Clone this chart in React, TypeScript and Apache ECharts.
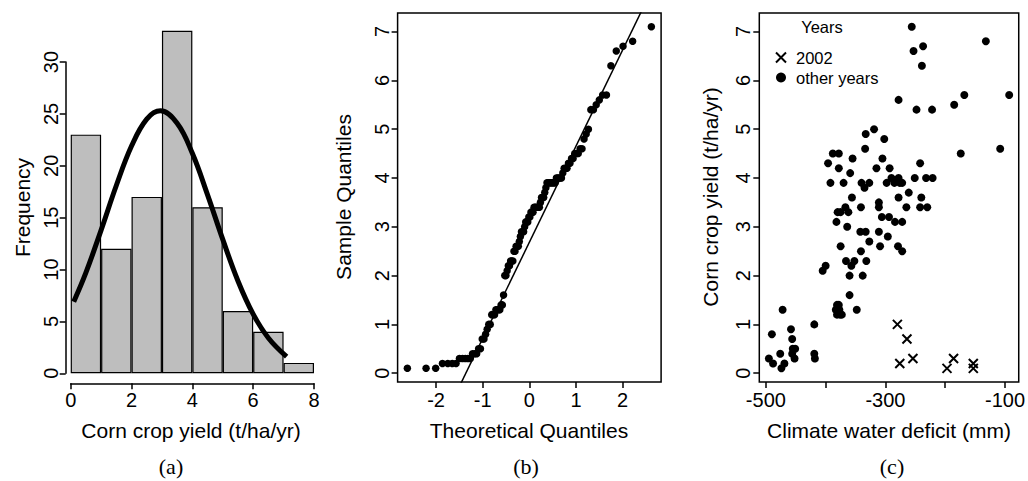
import React, { useEffect, useRef } from 'react';
import * as echarts from 'echarts';

const SANS = '"Liberation Sans", Arial, Helvetica, sans-serif';
const SERIF = '"Liberation Serif", "Times New Roman", serif';

// Panel (a): histogram of corn crop yield
const histBins = ['0-1', '1-2', '2-3', '3-4', '4-5', '5-6', '6-7', '7-8'];
const histCounts = [23, 12, 17, 33, 16, 6, 4, 1];
const curveX = [0.1, 0.5, 1, 1.5, 2, 2.5, 2.95, 3.5, 4, 4.5, 5, 5.5, 6, 6.5, 7.1];
const curveY = [6.9, 9.7, 13.8, 18.1, 21.9, 24.5, 25.3, 24.1, 21.2, 17.2, 12.9, 8.9, 5.7, 3.4, 1.6];
const histTicksX = [0, 2, 4, 6, 8];

// Panel (b): normal Q-Q plot
const qqTheoretical = [
  -2.615, -2.214, -2.008, -1.863, -1.748, -1.653, -1.571, -1.499, -1.433, -1.373, -1.318, -1.266, -1.218, -1.172,
  -1.129, -1.088, -1.048, -1.01, -0.973, -0.938, -0.904, -0.871, -0.838, -0.807, -0.776, -0.746, -0.717, -0.688,
  -0.66, -0.633, -0.606, -0.579, -0.553, -0.527, -0.501, -0.476, -0.451, -0.426, -0.402, -0.378, -0.354, -0.33,
  -0.307, -0.284, -0.261, -0.237, -0.215, -0.192, -0.169, -0.146, -0.123, -0.101, -0.078, -0.056, -0.034, -0.011,
  0.011, 0.034, 0.056, 0.078, 0.101, 0.123, 0.146, 0.169, 0.192, 0.215, 0.237, 0.261, 0.284, 0.307,
  0.33, 0.354, 0.378, 0.402, 0.426, 0.451, 0.476, 0.501, 0.527, 0.553, 0.579, 0.606, 0.633, 0.66,
  0.688, 0.717, 0.746, 0.776, 0.807, 0.838, 0.871, 0.904, 0.938, 0.973, 1.01, 1.048, 1.088, 1.129,
  1.172, 1.218, 1.266, 1.318, 1.373, 1.433, 1.499, 1.571, 1.653, 1.748, 1.863, 2.008, 2.214, 2.615,
];
const qqSample = [
  0.1, 0.1, 0.1, 0.2, 0.2, 0.2, 0.2, 0.3, 0.3, 0.3, 0.3, 0.3, 0.4, 0.4, 0.4, 0.5, 0.5, 0.7, 0.7, 0.8, 0.9, 1.0, 1.0,
  1.2, 1.2, 1.2, 1.3, 1.3, 1.3, 1.3, 1.4, 1.4, 1.6, 2.0, 2.0,
  2.1, 2.2, 2.2, 2.3, 2.3, 2.3, 2.5, 2.5, 2.6, 2.6, 2.6, 2.7, 2.8, 2.9, 2.9, 2.9, 3.0,
  3.1, 3.1, 3.1, 3.2, 3.2, 3.3, 3.3, 3.3, 3.4, 3.4, 3.4, 3.4, 3.4, 3.4, 3.5, 3.6, 3.6, 3.6, 3.7, 3.8,
  3.9, 3.9, 3.9, 3.9, 3.9, 3.9, 3.9, 3.9, 4.0, 4.0, 4.0, 4.0, 4.0,
  4.1, 4.2, 4.2, 4.2, 4.3, 4.3, 4.4, 4.4, 4.5, 4.5, 4.5, 4.6, 4.6, 4.8, 4.9, 5.0,
  5.4, 5.4, 5.5, 5.6, 5.7, 5.7, 6.3, 6.6, 6.7, 6.8, 7.1,
];
const qqLineX = [-1.55, 2.45];
const qqLineY = [-0.371, 7.51];
const quantTicksX = [-2, -1, 0, 1, 2];
const yieldTicks = [0, 1, 2, 3, 4, 5, 6, 7];

// Panel (c): yield vs climate water deficit
const deficit2002 = [-280, -264, -276, -254, -197, -186, -153, -153];
const yield2002 = [1.0, 0.7, 0.2, 0.3, 0.1, 0.3, 0.2, 0.1];
const deficitOther = [
  -256, -253, -237, -239, -278, -248, -222, -132, -168, -93, -185, -174, -108,
  -319, -333, -302, -334, -388, -378, -355, -305, -242, -396, -378, -315, -293, -359,
  -392, -370, -340, -335, -327, -298, -290, -278, -276, -251, -232, -221, -272, -285,
  -261, -356, -278, -240, -311, -311, -367, -362, -380, -341, -265, -242, -230, -375,
  -382, -364, -306, -294, -284, -272,
  -342, -333, -311, -296, -327, -375, -309, -279, -272, -341, -366, -352, -357, -332, -405, -400, -360, -338,
  -360, -381, -377, -381, -373, -348, -472, -378, -383, -376,
  -419, -490, -458, -456, -455, -451, -456, -452, -495, -488, -476, -469, -474, -419, -418,
];
const yieldOther = [
  7.1, 6.6, 6.7, 6.3, 5.6, 5.4, 5.4, 6.8, 5.7, 5.7, 5.5, 4.5, 4.6,
  5.0, 4.9, 4.8, 4.6, 4.5, 4.5, 4.4, 4.4, 4.3, 4.3, 4.2, 4.2, 4.2, 4.1,
  3.9, 3.9, 3.9, 3.8, 3.9, 3.9, 4.0, 4.0, 3.9, 4.0, 4.0, 4.0, 3.9, 3.9,
  3.7, 3.6, 3.6, 3.6, 3.5, 3.4, 3.4, 3.3, 3.3, 3.4, 3.4, 3.4, 3.4, 3.3,
  3.1, 3.0, 3.2, 3.2, 3.1, 3.1,
  2.9, 2.9, 2.9, 2.8, 2.7, 2.6, 2.6, 2.6, 2.5, 2.5, 2.3, 2.3, 2.2, 2.3, 2.1, 2.2, 2.0, 2.0,
  1.6, 1.4, 1.3, 1.2, 1.2, 1.3, 1.3, 1.4, 1.3, 1.2,
  1.0, 0.8, 0.9, 0.7, 0.5, 0.5, 0.4, 0.3, 0.3, 0.2, 0.4, 0.2, 0.1, 0.4, 0.3,
];
const deficitTicks = [-500, -400, -300, -200, -100];
const deficitLabels = [-500, -300, -100];

const zip = (a: number[], b: number[]) => a.map((v, i) => [v, b[i]]);

const BLACK = '#000';
const lineStyle = { color: BLACK, width: 1.5 };
const tickLabel = { color: BLACK, fontFamily: SANS, fontSize: 20 };
const xCross = 'path://M0,0L10,10M0,10L10,0';

function txt(text: string, x: number, y: number, size: number, opts: any = {}) {
  return {
    type: 'text',
    x,
    y,
    rotation: opts.rotation || 0,
    silent: true,
    style: {
      text,
      fill: BLACK,
      font: `${size}px ${opts.family || SANS}`,
      textAlign: 'center',
      textVerticalAlign: 'middle',
      align: 'center',
      verticalAlign: 'middle',
    },
  };
}

export default function App() {
  const ref = useRef<HTMLDivElement>(null);
  useEffect(() => {
    const chart = echarts.init(ref.current!, null, { renderer: 'svg' });
    const option: any = {
      animation: false,
      backgroundColor: '#fff',
      grid: [
        { left: 70.7, top: 62, width: 243.3, height: 311.3 },
        { left: 397.6, top: 13, width: 263.5, height: 369, show: true, borderColor: BLACK, borderWidth: 1.5, backgroundColor: 'transparent' },
        { left: 759.3, top: 13, width: 263, height: 369, show: true, borderColor: BLACK, borderWidth: 1.5, backgroundColor: 'transparent' },
      ],
      xAxis: [
        { gridIndex: 0, type: 'category', data: histBins, show: false, boundaryGap: true, position: 'bottom' },
        {
          gridIndex: 0, type: 'value', min: 0, max: 8, position: 'bottom', offset: 10,
          axisLine: { show: true, onZero: false, lineStyle },
          axisTick: { show: true, length: 6, lineStyle, customValues: histTicksX },
          axisLabel: { ...tickLabel, margin: 7, customValues: histTicksX },
          splitLine: { show: false },
        },
        {
          gridIndex: 1, type: 'value', min: -2.824, max: 2.824, position: 'bottom',
          axisLine: { show: false, onZero: false },
          axisTick: { show: true, length: 6, lineStyle, customValues: quantTicksX },
          axisLabel: { ...tickLabel, margin: 8, customValues: quantTicksX },
          splitLine: { show: false },
        },
        {
          gridIndex: 2, type: 'value', min: -511, max: -77, position: 'bottom',
          axisLine: { show: false, onZero: false },
          axisTick: { show: true, length: 6, lineStyle, customValues: deficitTicks },
          axisLabel: { ...tickLabel, margin: 8, customValues: deficitLabels },
          splitLine: { show: false },
        },
      ],
      yAxis: [
        {
          gridIndex: 0, type: 'value', min: 0, max: 30, interval: 5, offset: 5, position: 'left',
          axisLine: { show: true, onZero: false, lineStyle },
          axisTick: { show: true, length: 6, lineStyle },
          axisLabel: { ...tickLabel, rotate: 90, margin: 5 },
          splitLine: { show: false },
        },
        {
          gridIndex: 1, type: 'value', min: -0.18, max: 7.38, position: 'left',
          axisLine: { show: false, onZero: false },
          axisTick: { show: true, length: 6, lineStyle, customValues: yieldTicks },
          axisLabel: { ...tickLabel, rotate: 90, margin: 6, customValues: yieldTicks },
          splitLine: { show: false },
        },
        {
          gridIndex: 2, type: 'value', min: -0.18, max: 7.38, position: 'left',
          axisLine: { show: false, onZero: false },
          axisTick: { show: true, length: 6, lineStyle, customValues: yieldTicks },
          axisLabel: { ...tickLabel, rotate: 90, margin: 6, customValues: yieldTicks },
          splitLine: { show: false },
        },
      ],
      legend: {
        data: ['2002', 'other years'],
        orient: 'vertical',
        left: 770,
        top: 44,
        itemWidth: 10,
        itemHeight: 10,
        itemGap: 3,
        selectedMode: false,
        textStyle: { fontFamily: SANS, fontSize: 16.5, color: BLACK, padding: [0, 0, 0, 5] },
      },
      graphic: [
        txt('Frequency', 22, 207.5, 21, { rotation: Math.PI / 2 }),
        txt('Corn crop yield (t/ha/yr)', 191, 430, 21),
        txt('(a)', 171, 466, 22, { family: SERIF }),
        txt('Sample Quantiles', 343.5, 197, 21, { rotation: Math.PI / 2 }),
        txt('Theoretical Quantiles', 529, 430, 21),
        txt('(b)', 526, 466, 22, { family: SERIF }),
        txt('Corn crop yield (t/ha/yr)', 710, 197, 21, { rotation: Math.PI / 2 }),
        txt('Climate water deficit (mm)', 889, 430, 21),
        txt('(c)', 892, 466, 22, { family: SERIF }),
        txt('Years', 822, 27, 16.5),
      ],
      series: [
        {
          type: 'bar', xAxisIndex: 0, yAxisIndex: 0, data: histCounts, barWidth: '100%', clip: false,
          itemStyle: { color: '#bebebe', borderColor: BLACK, borderWidth: 1.2, opacity: 1 },
        },
        {
          type: 'line', xAxisIndex: 1, yAxisIndex: 0, data: zip(curveX, curveY), smooth: 0.4,
          showSymbol: false, symbol: 'none', lineStyle: { color: BLACK, width: 5 }, clip: false,
        },
        {
          type: 'scatter', xAxisIndex: 2, yAxisIndex: 1, data: zip(qqTheoretical, qqSample),
          symbol: 'circle', symbolSize: 7.5, itemStyle: { color: BLACK, opacity: 1 },
        },
        {
          type: 'line', xAxisIndex: 2, yAxisIndex: 1, data: zip(qqLineX, qqLineY), showSymbol: false,
          symbol: 'none', lineStyle: { color: BLACK, width: 1.5 }, clip: true,
        },
        {
          name: '2002', type: 'scatter', xAxisIndex: 3, yAxisIndex: 2, data: zip(deficit2002, yield2002),
          symbol: xCross, symbolSize: 9, itemStyle: { color: BLACK, borderColor: BLACK, borderWidth: 2, opacity: 1 },
        },
        {
          name: 'other years', type: 'scatter', xAxisIndex: 3, yAxisIndex: 2, data: zip(deficitOther, yieldOther),
          symbol: 'circle', symbolSize: 8, itemStyle: { color: BLACK, opacity: 1 },
        },
      ],
    };
    chart.setOption(option);
    return () => chart.dispose();
  }, []);
  return (
    <div
      ref={ref}
      style={{ position: 'fixed', left: 0, top: 0, width: 1028, height: 481, background: '#fff' }}
    />
  );
}
